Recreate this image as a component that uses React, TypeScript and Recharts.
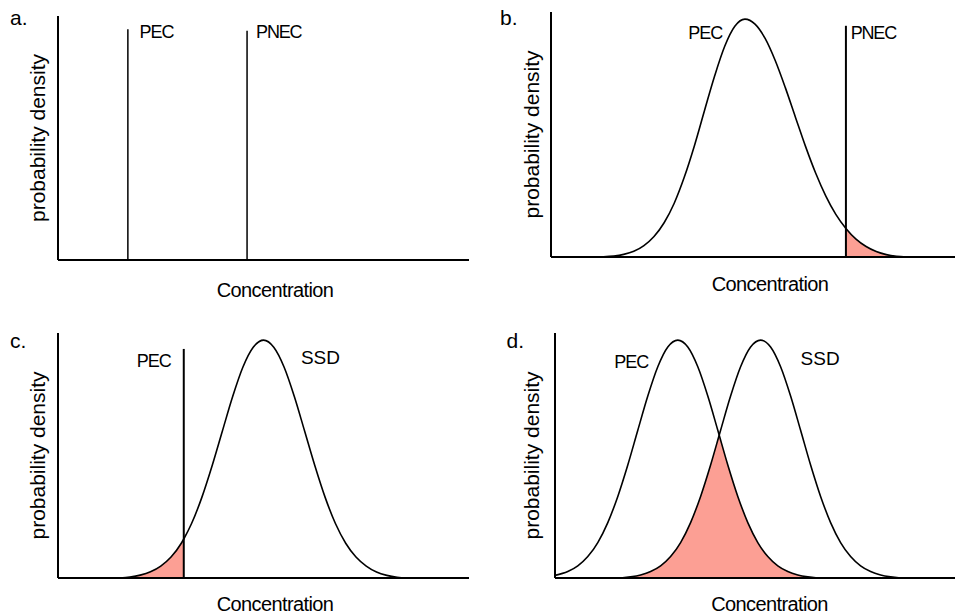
import React from 'react';
import { ComposedChart, Line, Area, XAxis, YAxis, ReferenceLine, ReferenceDot } from 'recharts';

const FONT = '"Liberation Sans", Arial, Helvetica, sans-serif';
const FILL = '#FC9F94';
const Y_MAX = 1.03;

// ---------- data (concentration on a 0..100 scale per panel, density relative to peak) ----------
// panel a: single values
const aPec = 17.0;
const aPnec = 46.0;
const aPecTop = 0.974;
const aPnecTop = 0.968;

// panel b: PEC distribution vs PNEC
const bX = [13, 15.5, 18, 20.5, 23, 25.5, 28, 30.5, 33, 35.5, 38, 40.5, 43, 45.5, 48, 50.5, 53, 55.5, 58, 60.5, 63, 65.5, 68, 70.5, 73, 75.5, 78, 80.5, 83, 85.5, 88];
const bPecY = [0.001, 0.004, 0.011, 0.024, 0.048, 0.086, 0.144, 0.226, 0.336, 0.468, 0.616, 0.761, 0.886, 0.97, 1.0, 0.979, 0.919, 0.826, 0.712, 0.588, 0.465, 0.353, 0.257, 0.179, 0.12, 0.075, 0.044, 0.023, 0.01, 0.003, 0.0];
const bPnec = 73;
const bPnecTop = 0.972;

// panel c: PEC value vs SSD
const cX = [15, 17.5, 20, 22.5, 25, 27.5, 30, 30.6, 32.5, 35, 37.5, 40, 42.5, 45, 47.5, 50, 52.5, 55, 57.5, 60, 62.5, 65, 67.5, 70, 72.5, 75, 77.5, 80, 82.5, 85];
const cSsdY = [0.0, 0.004, 0.012, 0.026, 0.05, 0.088, 0.146, 0.164, 0.229, 0.339, 0.472, 0.618, 0.763, 0.887, 0.97, 1.0, 0.97, 0.887, 0.763, 0.618, 0.472, 0.339, 0.229, 0.146, 0.088, 0.05, 0.025, 0.011, 0.003, 0.0];
const cPec = 30.6;
const cPecTop = 0.963;

// panel d: PEC distribution vs SSD
const dPecX = [0, 3.2, 5.7, 8.2, 10.7, 13.2, 15.7, 18.2, 20.7, 23.2, 25.7, 28.2, 30.7, 33.2, 35.7, 38.2, 40.7, 43.2, 45.7, 48.2, 50.7, 53.2, 55.7, 58.2, 60.7, 63.2, 65.7];
const dPecY = [0.011, 0.027, 0.051, 0.09, 0.149, 0.233, 0.343, 0.475, 0.621, 0.765, 0.888, 0.971, 1.0, 0.971, 0.888, 0.765, 0.621, 0.475, 0.343, 0.233, 0.149, 0.09, 0.051, 0.027, 0.013, 0.005, 0.0];
const dSsdX = [16.4, 18.9, 21.4, 23.9, 26.4, 28.9, 31.4, 33.9, 36.4, 38.9, 41.4, 43.9, 46.4, 48.9, 51.4, 53.9, 56.4, 58.9, 61.4, 63.9, 66.4, 68.9, 71.4, 73.9, 76.4, 78.9, 81.4, 83.9, 86.4];
const dSsdY = [0.0, 0.005, 0.013, 0.027, 0.051, 0.09, 0.149, 0.233, 0.343, 0.475, 0.621, 0.765, 0.888, 0.971, 1.0, 0.971, 0.888, 0.765, 0.621, 0.475, 0.343, 0.233, 0.149, 0.09, 0.051, 0.027, 0.013, 0.005, 0.0];
const dCrossX = 41.05;
const dCrossY = 0.6;

// text
const X_TITLE = 'Concentration';
const Y_TITLE = 'probability density';
const PANEL_LETTERS = ['a.', 'b.', 'c.', 'd.'];

// ---------- derived rows ----------
type Pt = { x: number; y: number };
const zip = (xs: number[], ys: number[]): Pt[] => xs.map((x, i) => ({ x, y: ys[i] }));

const bRows = zip(bX, bPecY);
const bFill = bRows.filter((p) => p.x >= bPnec);
const cRows = zip(cX, cSsdY);
const cFill = cRows.filter((p) => p.x <= cPec);
const dPecRows = zip(dPecX, dPecY);
const dSsdRows = zip(dSsdX, dSsdY);
const dCross = { x: dCrossX, y: dCrossY };
// overlap = lower of the two curves: rising SSD up to the crossing, falling PEC after it
const dOverlap = [
  ...dSsdRows.filter((p) => p.x < dCrossX),
  dCross,
  ...dPecRows.filter((p) => p.x > dCrossX),
];

const annotStyle = (size: number, spacing: number) => ({
  fontSize: size,
  fontFamily: FONT,
  fill: '#000',
  letterSpacing: spacing,
});

const tag = (x: number, y: number, text: string, size = 18, spacing = -1) => (
  <ReferenceDot
    key={text + x}
    x={x}
    y={y}
    r={0}
    fill="none"
    stroke="none"
    ifOverflow="visible"
    label={{ value: text, position: 'right', offset: 0, style: annotStyle(size, spacing) }}
  />
);

const vline = (x: number, top: number, w: number) => (
  <ReferenceLine
    key={'v' + x}
    segment={[{ x, y: 0 }, { x, y: top }]}
    stroke="#000"
    strokeWidth={w}
    ifOverflow="visible"
  />
);

const curve = (rows: Pt[], key: string) => (
  <Line
    key={key}
    data={rows}
    dataKey="y"
    type="monotone"
    stroke="#000"
    strokeWidth={1.6}
    dot={false}
    activeDot={false}
    isAnimationActive={false}
  />
);

const fillArea = (rows: Pt[], key: string, kind: 'monotone' | 'linear' = 'monotone') => (
  <Area
    key={key}
    data={rows}
    dataKey="y"
    type={kind}
    fill={FILL}
    fillOpacity={1}
    stroke="none"
    activeDot={false}
    isAnimationActive={false}
  />
);

type PanelProps = {
  left: number; top: number; width: number; height: number;
  margin: { top: number; right: number; bottom: number; left: number };
  yAxisWidth: number; yLabelOffset: number;
  xAxisHeight: number; xLabelOffset: number; xLabelShift: number;
  children?: React.ReactNode;
};

function Panel(p: PanelProps) {
  return (
    <div style={{ position: 'absolute', left: p.left, top: p.top, width: p.width, height: p.height }}>
      <ComposedChart width={p.width} height={p.height} margin={p.margin}>
        {p.children}
        <XAxis
          type="number"
          dataKey="x"
          domain={[0, 100]}
          allowDataOverflow
          tick={false}
          tickLine={false}
          axisLine={{ stroke: '#000', strokeWidth: 2 }}
          height={p.xAxisHeight}
          label={{
            value: X_TITLE,
            position: 'insideBottom',
            offset: p.xLabelOffset,
            dx: p.xLabelShift,
            style: { fontSize: 20, fontFamily: FONT, fill: '#000', letterSpacing: -0.6 },
          }}
        />
        <YAxis
          type="number"
          domain={[0, Y_MAX]}
          allowDataOverflow
          tick={false}
          tickLine={false}
          axisLine={{ stroke: '#000', strokeWidth: 2 }}
          width={p.yAxisWidth}
          label={{
            value: Y_TITLE,
            angle: -90,
            position: 'insideLeft',
            offset: p.yLabelOffset,
            style: { textAnchor: 'middle', fontSize: 21, fontFamily: FONT, fill: '#000' },
          }}
        />
      </ComposedChart>
    </div>
  );
}

const letterStyle = { fontSize: 21, fontFamily: FONT, fill: '#000' };

export default function App() {
  return (
    <div style={{ position: 'absolute', left: 0, top: 0, width: 955, height: 613, background: '#fff', overflow: 'hidden' }}>
      <Panel left={0} top={0} width={480} height={305}
        margin={{ top: 16, right: 11, bottom: 5, left: 0 }}
        yAxisWidth={58} yLabelOffset={37.2} xAxisHeight={40} xLabelOffset={3.5} xLabelShift={11.5}>
        {vline(aPec, aPecTop, 1.5)}
        {vline(aPnec, aPnecTop, 1.5)}
        {tag(19.8, 0.965, 'PEC')}
        {tag(48.2, 0.965, 'PNEC', 18, -1.2)}
      </Panel>

      <Panel left={480} top={0} width={475} height={305}
        margin={{ top: 12, right: 0, bottom: 8, left: 0 }}
        yAxisWidth={71} yLabelOffset={51.3} xAxisHeight={40} xLabelOffset={6} xLabelShift={17}>
        {fillArea(bFill, 'bfill')}
        {curve(bRows, 'bpec')}
        {vline(bPnec, bPnecTop, 2)}
        {tag(34.0, 0.945, 'PEC')}
        {tag(74.2, 0.945, 'PNEC', 18, -1.2)}
      </Panel>

      <Panel left={0} top={305} width={480} height={308}
        margin={{ top: 28, right: 11, bottom: 0, left: 0 }}
        yAxisWidth={58} yLabelOffset={37.2} xAxisHeight={35} xLabelOffset={2.5} xLabelShift={11.5}>
        {fillArea(cFill, 'cfill')}
        {curve(cRows, 'cssd')}
        {vline(cPec, cPecTop, 2)}
        {tag(19.15, 0.915, 'PEC')}
        {tag(59.1, 0.926, 'SSD', 19, 0)}
      </Panel>

      <Panel left={480} top={305} width={475} height={308}
        margin={{ top: 28, right: 0, bottom: 0, left: 0 }}
        yAxisWidth={75} yLabelOffset={51.3} xAxisHeight={35} xLabelOffset={2.5} xLabelShift={14.5}>
        {fillArea(dOverlap, 'dfill', 'linear')}
        {curve(dPecRows, 'dpec')}
        {curve(dSsdRows, 'dssd')}
        {tag(14.8, 0.911, 'PEC')}
        {tag(61.4, 0.923, 'SSD', 19, 0)}
      </Panel>

      <svg width={955} height={613} style={{ position: 'absolute', left: 0, top: 0, pointerEvents: 'none' }}>
        <text x={10} y={24.5} {...letterStyle}>{PANEL_LETTERS[0]}</text>
        <text x={500} y={25} {...letterStyle}>{PANEL_LETTERS[1]}</text>
        <text x={10} y={348} {...letterStyle}>{PANEL_LETTERS[2]}</text>
        <text x={506.5} y={348} {...letterStyle}>{PANEL_LETTERS[3]}</text>
      </svg>
    </div>
  );
}
